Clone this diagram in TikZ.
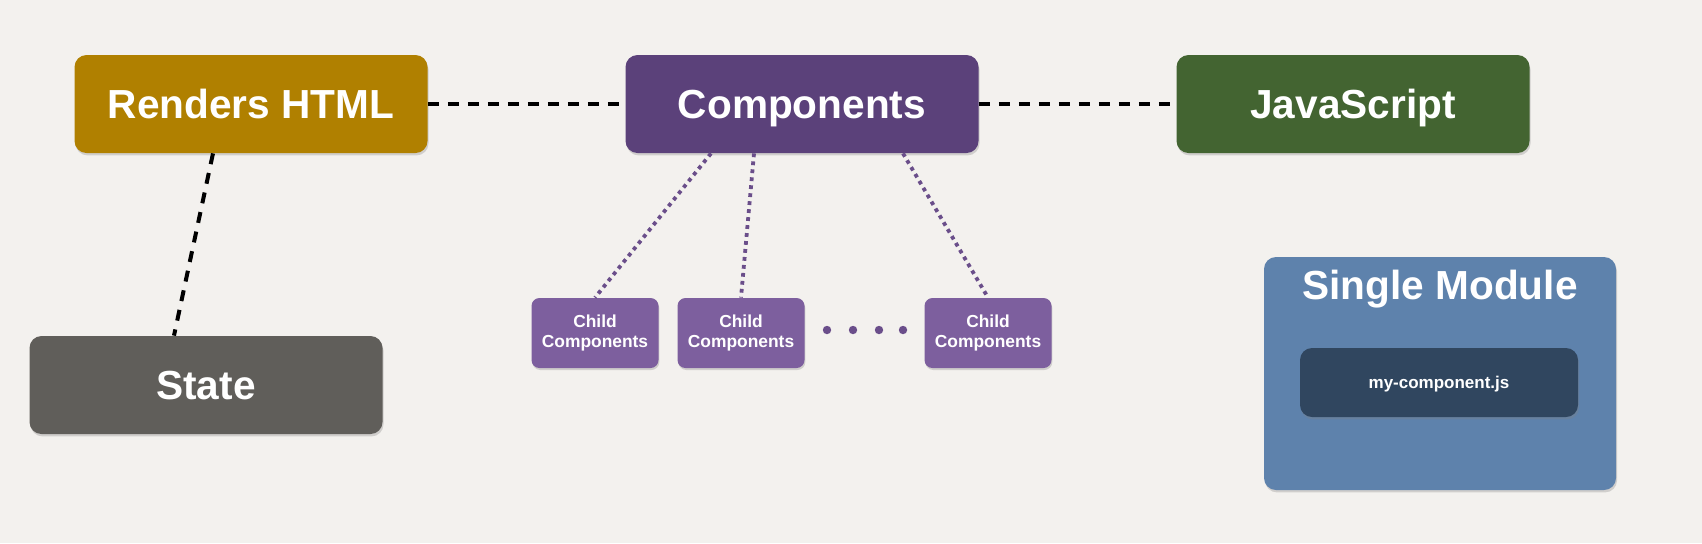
\documentclass[tikz,border=0pt]{standalone}
\usepackage{fontspec}
\setmainfont{Liberation Sans}
\usepackage{xcolor}
\usepackage{tikz}
\usetikzlibrary{positioning, shadows}
\definecolor{paper}{HTML}{F3F1EE}
\definecolor{htmlgold}{HTML}{B08000}
\definecolor{comppurple}{HTML}{5B417A}
\definecolor{childpurple}{HTML}{7D5F9E}
\definecolor{jsgreen}{HTML}{436431}
\definecolor{stategrey}{HTML}{605E5A}
\definecolor{moduleblue}{HTML}{5E82AC}
\definecolor{filenavy}{HTML}{30465F}
\definecolor{linkpurple}{HTML}{6A4E8A}

\begin{document}
\begin{tikzpicture}[
    x=0.5pt, y=-0.5pt,
    bigbox/.style={rounded corners=6pt, minimum width=176.5pt, minimum height=49pt, text=white, align=center,
        text height=14.5pt, text depth=0pt,
        font=\bfseries\fontsize{20.3}{24}\selectfont, drop shadow={shadow xshift=0.5pt, shadow yshift=-1.2pt, opacity=0.3}},
    childbox/.style={rounded corners=4pt, minimum width=63.5pt, minimum height=35pt, inner sep=0pt, text=white, align=center,
        fill=childpurple, font=\bfseries\fontsize{8.7}{10}\selectfont, drop shadow={shadow xshift=0.4pt, shadow yshift=-1pt, opacity=0.3}},
    blackdash/.style={line width=2pt, dash pattern=on 5.5pt off 4.5pt, color=black},
    purpledot/.style={line width=1.9pt, dash pattern=on 1.9pt off 2.1pt, color=linkpurple}
]
\fill[paper] (0,0) rectangle (1702,543);

\node[bigbox, fill=htmlgold] (html) at (251,104) {Renders HTML};
\node[bigbox, fill=comppurple] (comp) at (802,104) {Components};
\node[bigbox, fill=jsgreen] (js) at (1353,104) {JavaScript};
\node[bigbox, fill=stategrey] (state) at (206,385) {State};

\node[childbox] (c1) at (595,333) {Child\\Components};
\node[childbox] (c2) at (741,333) {Child\\Components};
\node[childbox] (c3) at (988,333) {Child\\Components};
\foreach \x in {827,853,879,903}
    \fill[linkpurple] (\x,330) circle (2.1pt);

% module box
\node[bigbox, fill=moduleblue, minimum width=176pt, minimum height=116.5pt] (mod) at (1440,373.5) {};
\node[text=white, font=\bfseries\fontsize{20.3}{24}\selectfont, inner sep=0pt] (modtitle) at (1440,289) {Single Module};
\node[bigbox, fill=filenavy, minimum width=139pt, minimum height=34.5pt, text height=6.1pt,
    font=\bfseries\fontsize{8.5}{10}\selectfont] (file) at (1439,382.5) {my-component.js};

\draw[blackdash] (html) -- (comp);
\draw[blackdash] (comp) -- (js);
\draw[blackdash] ([xshift=-19pt]html.south) -- ([xshift=-16pt]state.north);

\draw[purpledot] ([xshift=-45.5pt]comp.south) -- (c1.north);
\draw[purpledot] ([xshift=-24pt]comp.south) -- (c2.north);
\draw[purpledot] ([xshift=50.5pt]comp.south) -- (c3.north);
\end{tikzpicture}
\end{document}
